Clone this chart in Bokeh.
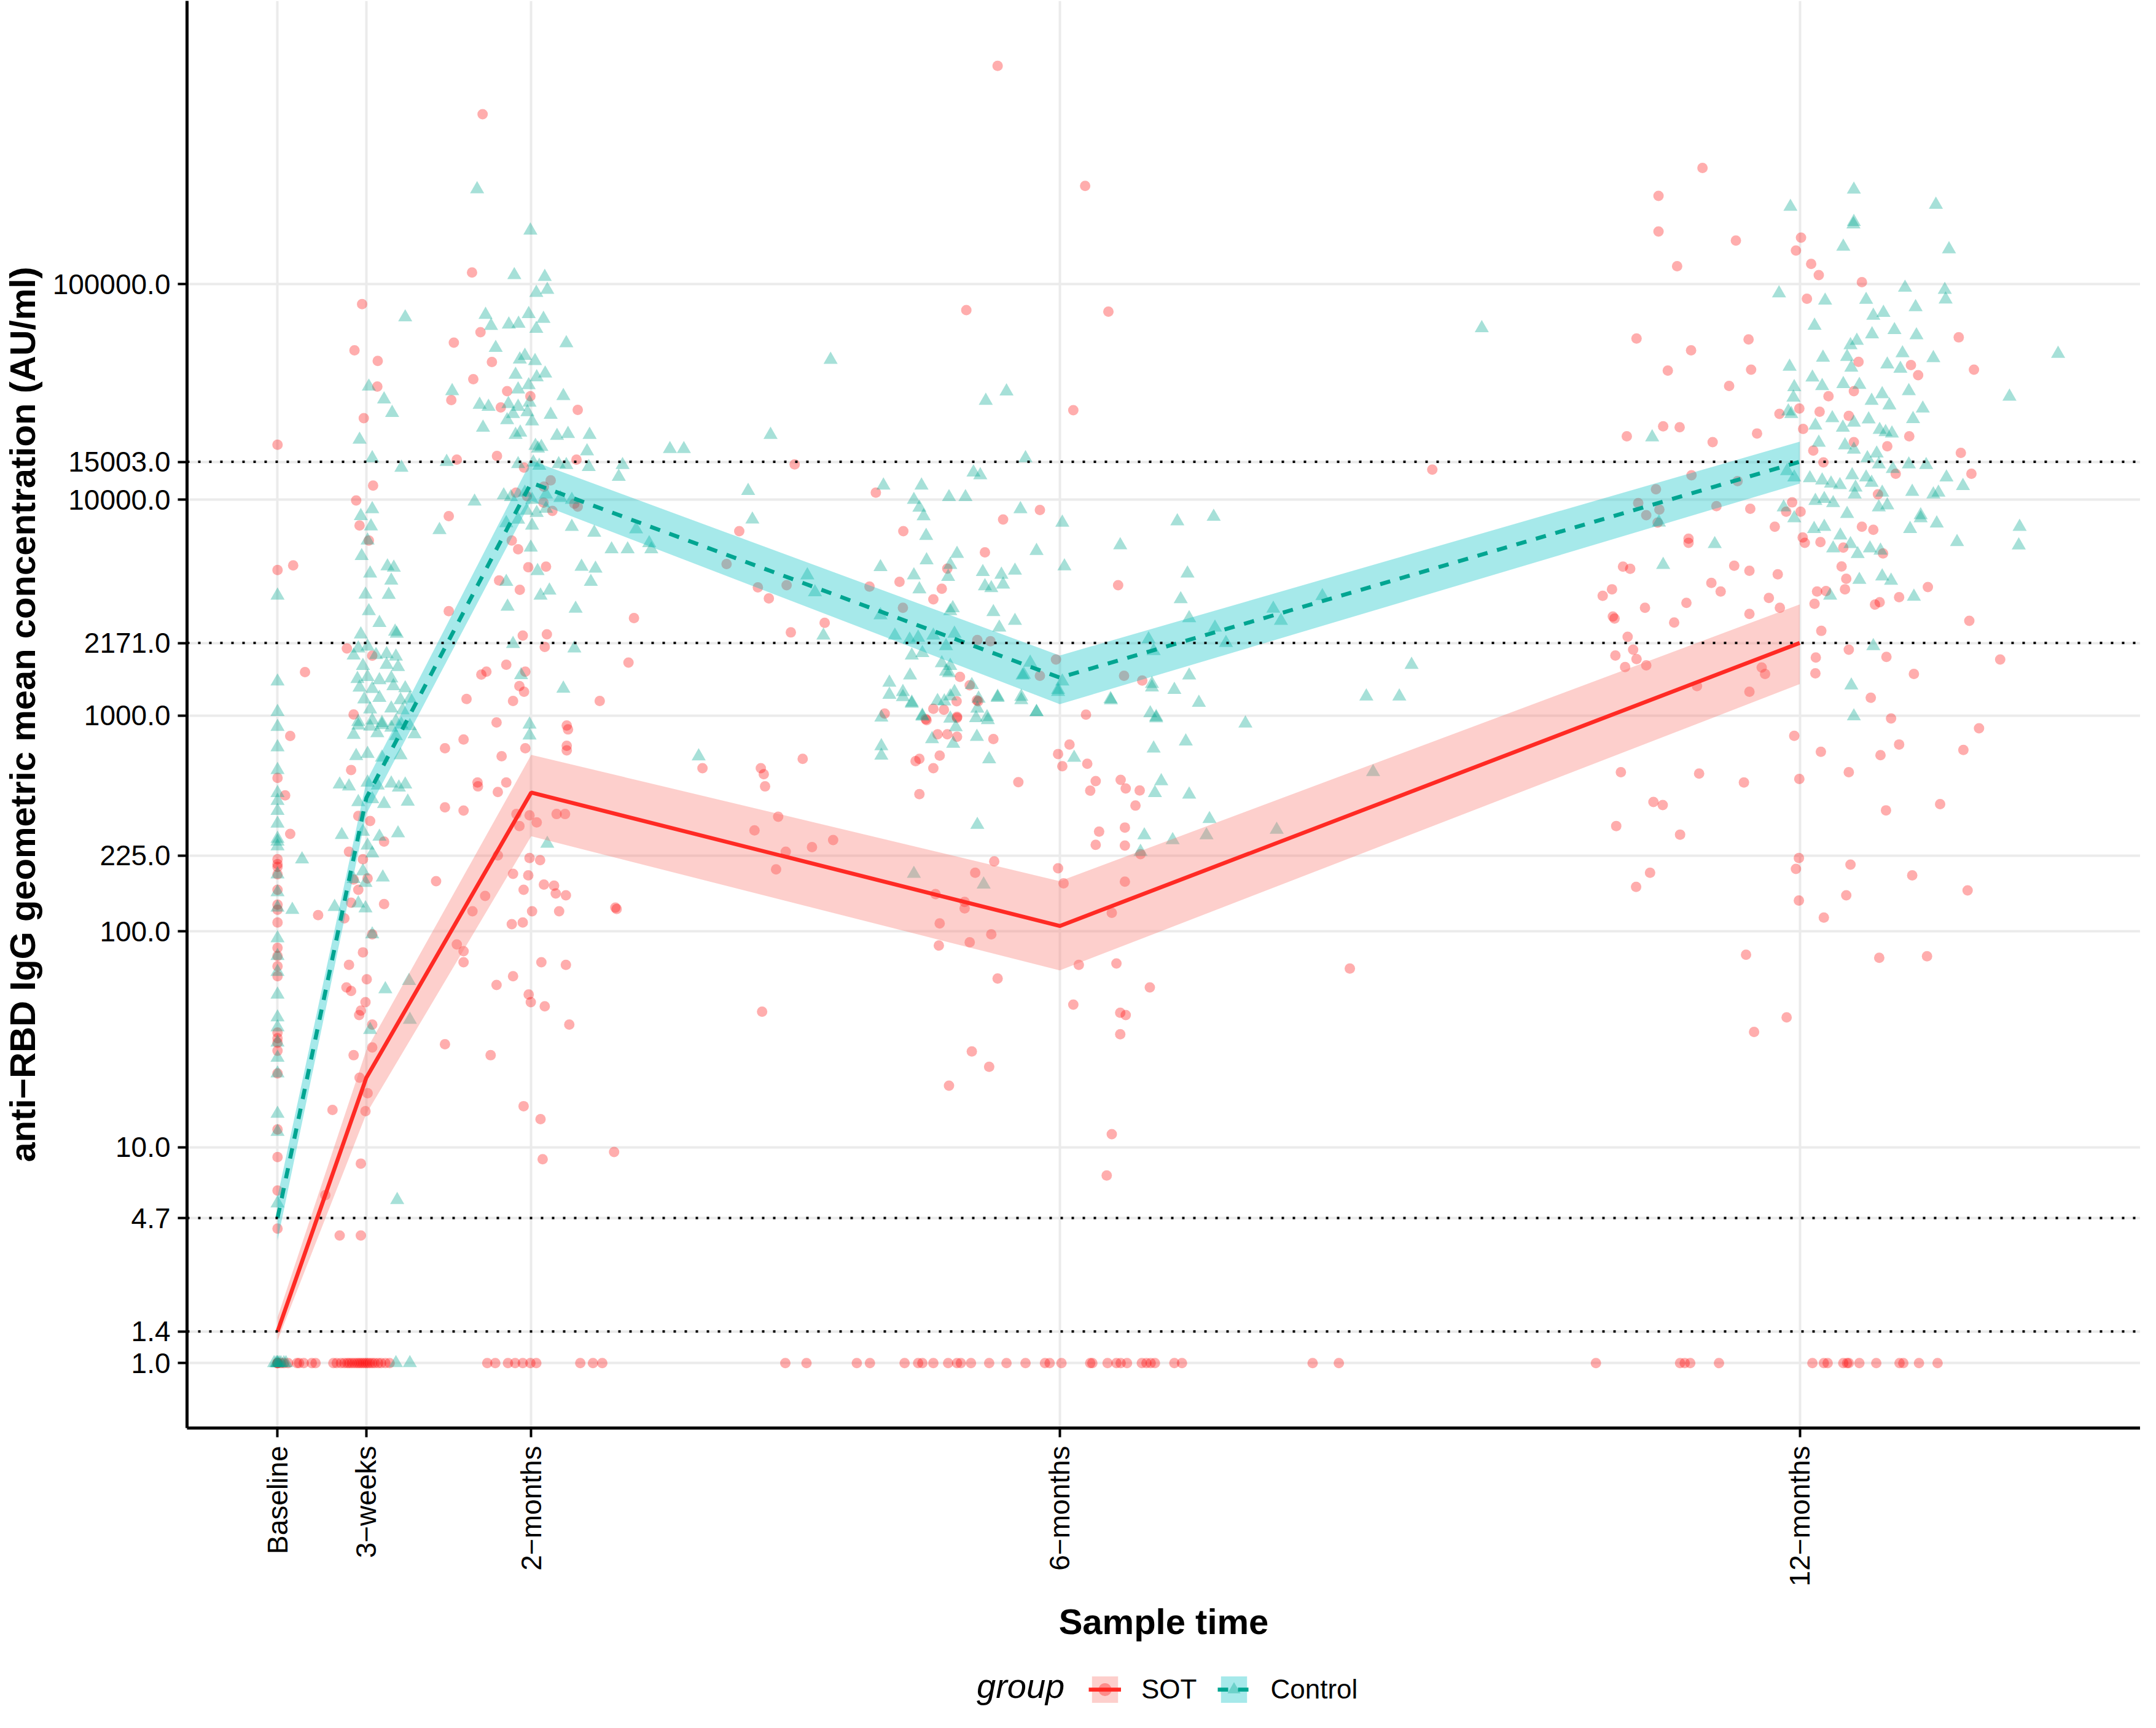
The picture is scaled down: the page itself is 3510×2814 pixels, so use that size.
import math
from bokeh.plotting import figure
from bokeh.layouts import column
from bokeh.models import (FixedTicker, NumeralTickFormatter, Span, Legend, LegendItem,
                          ColumnDataSource)
from bokeh.embed import file_html
from bokeh.resources import INLINE

# ---------------- data ----------------
visit_days = [0, 21, 60, 185, 360]
visit_labels = ["Baseline", "3\u2212weeks", "2\u2212months", "6\u2212months", "12\u2212months"]

y_ticks = [1, 1.4, 4.7, 10, 100, 225, 1000, 2171, 10000, 15003, 100000]
ref_lines = [1.4, 4.7, 2171, 15003]

# geometric means and 95% CI (AU/ml) at each visit
sot_gmc = [1.4, 21, 440, 106, 2171]
sot_lo = [1.27, 14.3, 276, 66, 1400]
sot_hi = [1.63, 28.2, 658, 171, 3275]
ctl_gmc = [4.7, 415, 12000, 1500, 15003]
ctl_lo = [3.7, 350, 9900, 1130, 11900]
ctl_hi = [5.9, 495, 15200, 1900, 18600]

# individual samples: (days since baseline, AU/ml)
sot_baseline = [(3.0, 805), (0, 515), (1.8, 427), (3.0, 283), (0, 216), (0, 205), (0, 199), (0, 184),
                (0, 156), (0, 133), (0, 126), (0, 110), (0, 84), (0, 77), (0, 69), (0, 62), (0, 34),
                (0, 32), (0, 30.5), (0, 28), (0, 22), (0, 12.1), (0, 9.0), (0, 6.3), (0, 4.2),
                (0, 18000), (0, 4730), (3.7, 4970), (6.5, 1590), (9.6, 119),
                (0, 1), (0, 1), (0, 1), (0.8, 1), (1.5, 1), (2.5, 1), (4.6, 1), (5.1, 1), (6.2, 1),
                (8.1, 1), (9.0, 1)]
sot_3weeks = [(20.0, 80700), (18.2, 49300), (23.7, 44000), (23.6, 33500), (20.4, 23900), (22.6, 11640),
              (18.6, 9930), (19.4, 7600), (21.6, 6480), (16.4, 2047), (22.4, 1896), (18.0, 1013),
              (17.4, 560), (19.1, 343), (21.9, 325), (25.2, 261), (16.9, 234), (20.2, 216), (18.0, 174),
              (21.3, 176), (19.1, 156), (17.4, 136), (25.2, 134), (15.8, 115), (22.4, 97), (20.2, 80),
              (16.9, 70), (21.1, 60), (16.3, 55), (17.4, 53), (20.8, 47), (19.7, 43), (19.3, 41),
              (22.4, 37), (22.4, 29), (18.0, 26.7), (19.4, 21), (21.3, 17.8), (20.8, 14.7), (13.0, 14.9),
              (19.7, 8.4), (14.7, 3.9), (19.7, 3.9), (11.3, 6.0),
              (13.2, 1), (14.0, 1), (15.0, 1), (15.8, 1), (16.5, 1), (17.0, 1), (17.6, 1), (18.2, 1),
              (18.8, 1), (19.3, 1), (19.8, 1), (20.3, 1), (20.8, 1), (21.3, 1), (21.8, 1), (22.4, 1),
              (23.0, 1), (23.8, 1), (24.5, 1), (25.5, 1), (26.5, 1)]
sot_2months = [(48.5, 612000), (46.0, 113000), (48.0, 59800), (41.7, 53500), (50.7, 43500), (46.3, 36200),
               (54.3, 31900), (59.8, 30200), (41.1, 29000), (52.8, 26800), (71.0, 26100), (51.9, 15960),
               (42.4, 15350), (70.7, 15350), (58.3, 14100), (64.6, 12300), (63.0, 11500), (56.4, 10800),
               (59.0, 10400), (62.9, 9700), (65.0, 8890), (70.2, 9600), (71.0, 9300), (40.5, 8400),
               (55.4, 6480), (56.9, 5900), (59.3, 4870), (63.5, 4900), (52.4, 4230), (57.3, 3830),
               (40.5, 3050), (84.3, 2830), (58.0, 2350), (63.7, 2380), (63.2, 2080), (83.0, 1760),
               (54.1, 1720), (48.2, 1550), (49.4, 1600), (58.6, 1600), (57.2, 1370), (58.3, 1290),
               (44.7, 1194), (55.7, 1170), (76.2, 1170), (51.8, 930), (68.4, 900), (68.7, 863),
               (68.4, 725), (68.4, 690), (39.6, 706), (44.0, 775), (53.0, 648), (58.6, 706), (47.3, 490),
               (47.4, 470), (54.1, 490), (52.1, 443), (39.6, 376), (44.0, 363), (56.5, 350), (59.6, 345),
               (61.3, 320), (66.0, 350), (68.0, 350), (57.2, 308), (59.6, 219), (62.1, 214), (52.1, 225),
               (37.5, 171), (55.7, 185), (59.3, 182), (58.2, 156), (63.0, 165), (65.4, 163), (65.8, 150),
               (68.2, 147), (49.1, 146), (60.2, 124), (66.6, 124), (46.1, 124), (80.2, 127), (79.9, 129),
               (58.0, 110), (55.4, 108), (42.4, 87), (44.0, 81), (44.0, 72), (62.4, 72), (68.2, 70),
               (55.7, 62), (51.8, 56.5), (59.4, 51), (59.9, 47), (63.2, 45), (69.0, 37), (39.6, 30),
               (50.4, 26.7), (58.2, 15.5), (62.2, 13.5), (79.6, 9.5), (62.7, 8.8),
               (49.6, 1), (51.5, 1), (54.5, 1), (56.2, 1), (58.0, 1), (59.8, 1), (61.2, 1), (71.6, 1),
               (74.6, 1), (76.8, 1)]
sot_6months = [(100.5, 571), (114.3, 571), (115.0, 535), (115.3, 470), (124.2, 631), (118.4, 340),
               (112.8, 294), (126.4, 246), (131.4, 265), (120.2, 234), (117.9, 194), (114.6, 42.5),
               (106.2, 5040), (120.4, 4020), (140.0, 3960), (147.9, 3160), (109.2, 7160), (122.3, 14600),
               (141.5, 10800), (113.6, 3930), (116.2, 3490), (129.4, 2690), (121.4, 2430), (273.1, 13800),
               (253.6, 67.3),
               (170.3, 1025000), (191.0, 285000), (162.9, 75700), (196.5, 74500), (188.2, 26000),
               (180.3, 8970), (171.6, 8110), (148.0, 7160), (167.3, 5710), (198.8, 4020), (147.1, 4170),
               (155.1, 3460), (157.1, 3870), (158.4, 4800), (161.4, 1512), (163.7, 1382), (165.4, 1177),
               (160.6, 1166), (157.6, 1065), (155.1, 1076), (143.6, 1023), (160.7, 988), (153.3, 964),
               (165.5, 2240), (168.6, 2210), (180.3, 1530), (184.1, 1820), (200.2, 1530), (204.5, 1453),
               (153.5, 953), (165.7, 1165), (156.1, 819), (158.4, 819), (160.7, 798), (169.3, 779),
               (156.6, 653), (151.8, 631), (150.9, 615), (155.1, 571), (151.8, 433), (175.2, 492),
               (187.3, 734), (184.6, 664), (185.6, 583), (191.5, 598), (191.2, 1011), (193.5, 497),
               (192.2, 449), (199.4, 504), (200.6, 460), (203.9, 450), (202.9, 383), (194.3, 290),
               (193.5, 252), (200.4, 303), (200.4, 250), (204.1, 228), (184.6, 196), (185.9, 167),
               (200.4, 170), (197.3, 122), (169.5, 211), (165.0, 187), (155.6, 149), (162.5, 137),
               (162.5, 128), (156.6, 109), (168.8, 97), (156.4, 86), (163.7, 89), (170.3, 60.5),
               (189.5, 70), (198.4, 71), (206.3, 55), (188.2, 45.8), (199.3, 42), (200.6, 41),
               (199.3, 33.4), (164.2, 27.8), (168.3, 23.6), (158.8, 19.3), (197.3, 11.5), (196.1, 7.4),
               (160.7, 977),
               (120.1, 1), (125.1, 1), (137.0, 1), (140.1, 1), (148.3, 1), (151.5, 1), (152.5, 1),
               (155.1, 1), (158.6, 1), (160.7, 1), (161.6, 1), (164.0, 1), (168.3, 1), (172.4, 1),
               (176.9, 1), (181.5, 1), (182.6, 1), (185.4, 1), (192.2, 1), (192.7, 1), (196.3, 1),
               (198.4, 1), (199.4, 1), (200.9, 1), (204.4, 1), (205.5, 1), (206.5, 1), (207.5, 1),
               (212.1, 1), (213.9, 1), (244.8, 1), (251.0, 1)]
sot_12months = [(337.0, 345000), (326.6, 256000), (326.6, 175000), (344.9, 159000), (331.0, 121000),
                (360.3, 164000), (359.1, 143000), (362.7, 124000), (364.5, 110000), (374.7, 102000),
                (361.7, 85500), (321.4, 55900), (334.3, 49300), (347.9, 55400), (348.5, 40100),
                (328.8, 39700), (343.3, 33700), (397.6, 56600), (401.2, 40100), (386.3, 42100),
                (388.0, 37800), (373.9, 43600), (372.8, 31900), (366.8, 30200), (364.7, 25600),
                (359.9, 26500), (355.2, 25000), (327.7, 21900), (331.6, 21700), (319.1, 19700),
                (339.4, 18500), (349.9, 20300), (371.6, 24500), (372.8, 18500), (360.8, 21300),
                (363.2, 16900), (365.6, 14900), (380.7, 17700), (385.9, 19700), (398.1, 16500),
                (400.6, 13200), (382.7, 13200), (378.5, 10600), (358.2, 9730), (356.8, 8810),
                (360.2, 8810), (348.3, 9090), (340.3, 9350), (354.1, 7500), (360.7, 6690), (361.2, 6320),
                (364.9, 6370), (374.7, 7500), (377.4, 7260), (370.3, 6010), (379.7, 5640), (333.7, 6600),
                (333.7, 6320), (318.2, 4900), (319.9, 4790), (344.5, 4950), (348.1, 4690), (354.8, 4520),
                (339.1, 4120), (341.3, 3760), (315.6, 3850), (313.4, 3590), (323.4, 3160), (333.2, 3330),
                (352.7, 3510), (355.3, 3160), (348.1, 2960), (330.3, 2700), (315.8, 2880), (316.2, 2820),
                (364.1, 3760), (366.2, 3780), (363.5, 3300), (370.7, 3850), (369.9, 4910), (371.0, 4310),
                (377.8, 3270), (378.9, 3350), (383.5, 3540), (390.3, 3940), (400.1, 2750), (365.1, 2470),
                (319.3, 2320), (320.6, 2020), (316.4, 1900), (321.4, 1830), (318.7, 1680), (323.7, 1710),
                (351.0, 1670), (351.8, 1560), (348.1, 1290), (335.7, 1370), (363.8, 1860), (363.7, 1570),
                (371.6, 2020), (380.5, 1870), (387.0, 1560), (407.4, 1820), (376.8, 1210), (381.6, 970),
                (402.4, 873), (358.7, 806), (365.0, 680), (379.1, 656), (383.5, 735), (398.7, 693),
                (371.6, 547), (359.9, 509), (317.7, 547), (336.2, 539), (346.8, 490), (325.4, 398),
                (327.6, 385), (316.6, 308), (331.7, 281), (393.2, 389), (380.4, 364), (359.8, 219),
                (359.1, 195), (372.0, 204), (386.6, 182), (399.7, 155), (324.6, 187), (321.3, 161),
                (371.0, 147), (359.8, 139), (365.7, 116), (347.3, 78), (378.8, 75.5), (390.1, 76.7),
                (356.9, 40), (349.2, 34.2),
                (334.4, 13000), (326.0, 11200), (321.8, 9660), (323.7, 8490), (326.8, 9020), (326.4, 7850),
                (345.3, 12200),
                (311.8, 1), (331.7, 1), (332.8, 1), (334.1, 1), (340.9, 1), (363.0, 1), (365.7, 1),
                (366.6, 1), (370.3, 1), (371.2, 1), (371.6, 1), (374.1, 1), (378.1, 1), (383.6, 1),
                (384.5, 1), (388.2, 1), (392.6, 1)]

ctl_baseline = [(0, 3600), (0, 1440), (0, 1040), (0, 888), (0, 714), (0, 560), (0, 438), (0, 403), (0, 362),
                (0, 316), (0, 269), (0, 261), (0, 248), (0, 184), (0, 152), (0, 129), (0, 93), (0, 77),
                (0, 65), (0, 51), (0, 40), (0, 36), (0, 30.6), (0, 26), (0, 22), (0, 14.3), (0, 11.8),
                (0, 5.5), (5.8, 216), (3.5, 126),
                (-0.8, 1), (-0.3, 1), (0, 1), (0, 1), (0.4, 1), (0.8, 1), (1.5, 1), (2.0, 1)]
ctl_3weeks = [(30.2, 70100), (21.6, 33500), (25.2, 29200), (27.1, 25300), (19.4, 19000), (22.4, 15600),
              (29.3, 14100), (19.7, 8410), (22.4, 9060), (22.1, 7540), (21.3, 6480), (19.9, 5490),
              (21.9, 4560), (26.0, 4920), (27.5, 4850), (26.9, 4230), (20.8, 3640), (26.3, 3630),
              (21.6, 3050), (24.1, 2690), (27.8, 2450), (28.2, 2400), (19.7, 2380), (19.1, 2050),
              (21.3, 2090), (18.0, 1900), (25.8, 1930), (28.0, 1880), (23.3, 1910), (20.2, 1700),
              (25.8, 1720), (28.5, 1680), (18.9, 1480), (21.3, 1510), (24.1, 1460), (26.9, 1490),
              (19.4, 1350), (22.4, 1330), (27.4, 1370), (30.2, 1340), (20.5, 1190), (24.1, 1210),
              (29.1, 1180), (31.3, 1200), (21.9, 1070), (26.9, 1080), (29.6, 1060), (19.1, 935),
              (22.4, 950), (24.7, 925), (28.0, 940), (19.1, 900), (21.9, 890), (24.7, 905), (26.9, 880),
              (29.3, 910), (31.3, 895), (18.0, 815), (23.6, 830), (28.0, 805), (32.4, 820), (18.6, 650),
              (21.3, 665), (24.7, 640), (29.1, 655), (14.7, 480), (16.9, 470), (21.3, 490), (23.7, 475),
              (26.9, 485), (28.7, 465), (30.2, 480), (19.1, 398), (22.4, 410), (25.2, 390), (30.8, 400),
              (15.2, 280), (20.2, 290), (24.1, 275), (28.5, 285), (21.3, 250), (22.4, 230), (20.2, 190),
              (18.0, 175), (20.8, 168), (24.9, 178), (19.1, 135), (20.8, 128), (13.5, 130), (22.4, 97),
              (25.5, 54), (31.1, 59), (21.9, 35), (31.3, 39), (28.3, 5.7),
              (28.0, 1), (31.3, 1)]
ctl_2months = [(47.2, 275000), (59.8, 177000), (56.0, 110000), (63.2, 108000), (61.2, 91000), (63.8, 94000),
               (49.2, 72000), (50.5, 64000), (59.4, 72600), (62.9, 69000), (54.7, 65000), (57.0, 65500),
               (61.2, 62000), (68.3, 53200), (51.6, 50600), (57.3, 44700), (60.9, 44000), (58.5, 46500),
               (56.3, 38000), (61.3, 37000), (63.3, 38500), (59.4, 34000), (56.9, 32500), (41.3, 31900),
               (67.6, 30300), (54.6, 27800), (56.9, 27000), (59.6, 28200), (47.8, 27600), (49.9, 27000),
               (55.7, 25000), (59.1, 25500), (64.6, 24800), (54.3, 23400), (60.2, 23100), (48.6, 21600),
               (56.3, 20000), (57.4, 20500), (66.1, 19800), (68.7, 20200), (73.8, 20000), (61.0, 17800),
               (61.6, 17300), (62.4, 17600), (73.2, 16800), (92.8, 17200), (96.1, 17200), (68.3, 14500),
               (73.6, 14200), (81.6, 14500), (40.0, 15000), (56.9, 14650), (60.5, 14900), (61.9, 14400),
               (66.5, 14650), (80.7, 12800), (53.5, 10500), (55.2, 10300), (58.5, 10800), (60.2, 10000),
               (63.5, 10600), (46.6, 9820), (66.9, 10200), (69.6, 10000), (58.9, 8900), (61.3, 8700),
               (63.5, 9100), (38.3, 7250), (54.1, 7800), (56.9, 8100), (60.2, 7600), (69.6, 7500),
               (74.9, 7050), (75.2, 4800), (71.9, 4900), (61.5, 4680), (74.1, 4170), (59.9, 6010),
               (64.3, 3800), (62.2, 3600), (54.1, 4170), (54.4, 3200), (70.5, 3130), (55.7, 2150),
               (70.2, 2050), (57.6, 1540), (67.6, 1335), (59.6, 810), (59.6, 910), (63.8, 255),
               (99.6, 648), (116.6, 20000), (130.8, 44600), (111.3, 11000), (112.3, 8110), (84.8, 7300),
               (87.9, 6300), (88.4, 5900), (82.8, 5900), (79.0, 5900), (125.3, 4470), (127.1, 3730),
               (129.1, 2350)]
ctl_6months = [(143.3, 11650), (152.3, 11650), (150.5, 10000), (151.8, 9200), (152.8, 8400), (158.8, 10300),
               (162.7, 10300), (164.6, 13400), (166.2, 13000), (167.5, 28800), (172.4, 31800),
               (176.9, 15600), (175.7, 9060), (185.6, 7840), (186.1, 4920), (199.3, 6160), (212.8, 7960),
               (221.4, 8350), (179.5, 5800), (153.4, 6810), (142.6, 4880), (153.5, 5250), (160.7, 5620),
               (158.6, 4400), (159.1, 5000), (150.5, 4470), (151.8, 3850), (166.8, 4630), (171.2, 4500),
               (174.4, 4700), (167.3, 3980), (168.8, 3900), (171.6, 4050), (159.7, 3150), (159.1, 3050),
               (169.3, 3020), (174.4, 2750), (142.6, 2920), (146.0, 2350), (149.5, 2250), (151.5, 2300),
               (155.1, 2350), (158.1, 2100), (160.1, 2400), (170.7, 2560), (150.0, 1900), (152.5, 1950),
               (157.1, 1750), (159.1, 1700), (158.1, 1600), (176.5, 1550), (178.0, 1760), (184.6, 1290),
               (185.6, 1440), (144.7, 1250), (147.9, 1220), (150.0, 1150), (156.1, 1170), (159.1, 1230),
               (165.8, 1200), (170.3, 1210), (175.9, 1180), (179.5, 1040), (142.8, 980), (152.5, 990),
               (159.1, 970), (165.2, 975), (167.8, 985),
               (144.7, 1422), (147.9, 1288), (149.6, 1535), (150.0, 1136), (152.5, 1000), (154.8, 779),
               (158.8, 1574), (157.7, 1165), (160.1, 1288), (160.4, 884), (159.8, 741), (164.2, 1387),
               (165.5, 1079), (168.0, 953), (165.4, 798), (168.3, 628), (170.3, 1224), (175.9, 1224),
               (176.2, 1535), (179.5, 1038), (184.6, 1318), (188.4, 638), (197.0, 1194), (206.8, 1352),
               (212.1, 1318), (215.6, 1535), (217.9, 1148), (206.4, 1026), (207.8, 986), (207.2, 705),
               (214.8, 760), (228.9, 920), (209.0, 497), (207.5, 438), (215.6, 431), (220.4, 332),
               (205.0, 279), (211.7, 265), (219.7, 279), (236.3, 296), (204.1, 234), (165.5, 312),
               (150.5, 185), (167.0, 165), (142.8, 722), (142.8, 653),
               (197.1, 1178), (206.8, 1403), (207.8, 973), (215.2, 4560), (213.6, 3465), (206.0, 2260),
               (207.2, 1993), (215.6, 2830), (221.7, 2560), (224.3, 2173), (235.5, 3130),
               (284.8, 62500), (247.1, 3580), (268.2, 1720), (257.5, 1228), (265.3, 1228), (259.1, 548),
               (237.3, 2750)]
ctl_12months = [(357.8, 228000), (372.8, 274000), (372.8, 194000), (372.7, 189000), (370.3, 149000),
                (392.2, 233000), (395.3, 145000), (355.1, 90600), (366.0, 83800), (363.5, 64100),
                (375.7, 84500), (377.4, 71300), (379.8, 73600), (384.9, 96200), (394.3, 94000),
                (394.5, 84900), (387.4, 78200), (382.4, 61200), (377.1, 58500), (387.6, 57900),
                (391.6, 45400), (384.3, 47800), (372.0, 52100), (373.5, 54600), (365.5, 45600),
                (371.2, 46000), (372.2, 41000), (380.7, 42400), (383.8, 40500), (357.6, 41400),
                (358.7, 33300), (363.0, 36900), (365.3, 33700), (370.3, 34400), (374.1, 34100),
                (377.0, 28800), (379.5, 30900), (381.2, 27400), (385.8, 31900), (389.1, 26500),
                (421.1, 47500), (409.6, 30100), (357.3, 25700), (358.5, 29800), (358.0, 25000),
                (363.7, 22100), (367.7, 23900), (370.2, 21600), (372.8, 22800), (376.3, 23600),
                (378.9, 21100), (380.3, 20600), (381.8, 20300), (386.8, 23700), (325.1, 19500),
                (364.5, 18400), (370.7, 17900), (372.8, 17100), (376.0, 15600), (378.2, 16400),
                (378.7, 14600), (382.0, 13900), (385.8, 14600), (389.9, 14500), (394.7, 12700),
                (398.6, 11600), (357.0, 13600), (358.7, 12700), (362.4, 12600), (365.3, 12300),
                (367.4, 11900), (369.5, 11700), (372.4, 13000), (373.2, 11400), (375.7, 12700),
                (377.0, 12000), (379.5, 10800), (386.6, 10900), (391.6, 10600), (392.8, 10800),
                (356.2, 9230), (358.7, 8220), (363.7, 9890), (365.8, 10100), (367.9, 9660), (371.2, 8610),
                (373.0, 10600), (378.7, 9230), (380.7, 9440), (388.6, 8490), (388.6, 8220), (386.1, 7330),
                (392.4, 7780), (363.4, 7330), (365.8, 7500), (369.6, 6840), (372.0, 6240), (376.6, 5960),
                (379.1, 5820), (397.2, 6380), (412.0, 7500), (411.8, 6150), (367.9, 5960), (373.7, 5610),
                (374.1, 4260), (379.5, 4420), (381.6, 4220), (387.0, 3560), (367.2, 3600), (339.9, 6240),
                (327.7, 5000), (326.7, 7850), (372.2, 1380), (377.4, 2100), (372.8, 993)]

# ---------------- styles ----------------
FONT = "Liberation Sans"
SOT_PT = "#FF0000"
CTL_PT = "#00A58F"
SOT_BAND = "#F8766D"
CTL_BAND = "#00BFC4"
SOT_LINE = "#FF2A24"
CTL_LINE = "#00A591"
W = 3484          # page width used by both rows
LEFT = 302        # left border (y axis area)
QH = 100          # height of the legend row

# ---------------- main plot ----------------
p = figure(width=W, height=2692, x_range=(-21.4, 440.55), y_range=(0.5, 2.05e6),
           y_axis_type="log", output_backend="svg", toolbar_location=None,
           min_border_left=LEFT, min_border_right=0, min_border_top=1, min_border_bottom=367)
p.outline_line_color = None
p.background_fill_color = "white"
p.border_fill_color = "white"

def pts(*groups):
    xs, ys = [], []
    for g in groups:
        for d, v in g:
            xs.append(d)
            ys.append(v)
    return ColumnDataSource(dict(day=xs, val=ys))

sot_src = pts(sot_baseline, sot_3weeks, sot_2months, sot_6months, sot_12months)
ctl_src = pts(ctl_baseline, ctl_3weeks, ctl_2months, ctl_6months, ctl_12months)

p.scatter("day", "val", source=sot_src, marker="circle", size=17,
          fill_color=SOT_PT, fill_alpha=0.32, line_color=None)
p.scatter("day", "val", source=ctl_src, marker="triangle", size=23,
          fill_color=CTL_PT, fill_alpha=0.35, line_color=None)

p.varea(x=visit_days, y1=sot_lo, y2=sot_hi, fill_color=SOT_BAND, fill_alpha=0.35)
p.varea(x=visit_days, y1=ctl_lo, y2=ctl_hi, fill_color=CTL_BAND, fill_alpha=0.35)

p.line(visit_days, sot_gmc, line_color=SOT_LINE, line_width=6.5)
p.line(visit_days, ctl_gmc, line_color=CTL_LINE, line_width=6.5, line_dash="17 16")

for v in ref_lines:
    p.add_layout(Span(location=v, dimension="width", line_color="black",
                      line_width=4, line_dash="4 14"))

p.xaxis.ticker = FixedTicker(ticks=visit_days, minor_ticks=[])
p.xaxis.major_label_overrides = {d: lab for d, lab in zip(visit_days, visit_labels)}
p.xaxis.major_label_orientation = math.pi / 2
p.yaxis.ticker = FixedTicker(ticks=y_ticks, minor_ticks=[])
p.yaxis.formatter = NumeralTickFormatter(format="0.0")
p.xgrid.ticker = FixedTicker(ticks=visit_days, minor_ticks=[])
p.ygrid.ticker = FixedTicker(ticks=y_ticks, minor_ticks=[])
for g in (p.xgrid, p.ygrid):
    g.grid_line_color = "#EBEBEB"
    g.grid_line_width = 4
    g.minor_grid_line_color = None

for ax in (p.xaxis, p.yaxis):
    ax.axis_line_color = "black"
    ax.axis_line_width = 5
    ax.major_tick_line_color = "black"
    ax.major_tick_line_width = 4
    ax.major_tick_out = 15
    ax.major_tick_in = 0
    ax.minor_tick_line_color = None
    ax.major_label_text_font = FONT
    ax.major_label_text_font_size = "46px"
    ax.major_label_text_color = "black"
    ax.axis_label_text_font = FONT
    ax.axis_label_text_font_size = "58px"
    ax.axis_label_text_font_style = "bold"
    ax.axis_label_text_color = "black"

p.xaxis.axis_label = "Sample time"
p.xaxis.major_label_standoff = 14
p.xaxis.axis_label_standoff = 22
p.yaxis.axis_label = "anti\u2212RBD IgG geometric mean concentration (AU/ml)"
p.yaxis.major_label_standoff = 12
p.yaxis.axis_label_standoff = 14

# ---------------- legend row ----------------
NAN = float("nan")
q = figure(width=W, height=QH, x_range=(LEFT, W), y_range=(0, QH),
           output_backend="svg", toolbar_location=None,
           min_border_left=LEFT, min_border_right=0, min_border_top=0, min_border_bottom=0,
           x_axis_location=None, y_axis_location=None)
q.outline_line_color = None
q.background_fill_color = "white"
q.border_fill_color = "white"
q.grid.visible = False

# key proxies (hold the styles only; nothing is drawn from them)
k_sot_band = q.varea(x=[NAN], y1=[NAN], y2=[NAN], fill_color=SOT_BAND, fill_alpha=0.35)
k_sot_pt = q.scatter(x=[NAN], y=[NAN], marker="circle", size=17, fill_color=SOT_PT,
                     fill_alpha=0.32, line_color=None)
k_sot_line = q.line(x=[NAN], y=[NAN], line_color=SOT_LINE, line_width=6.5)
k_ctl_band = q.varea(x=[NAN], y1=[NAN], y2=[NAN], fill_color=CTL_BAND, fill_alpha=0.35)
k_ctl_pt = q.scatter(x=[NAN], y=[NAN], marker="triangle", size=23, fill_color=CTL_PT,
                     fill_alpha=0.35, line_color=None)
k_ctl_line = q.line(x=[NAN], y=[NAN], line_color=CTL_LINE, line_width=6.5, line_dash="17 16")
k_blank = q.scatter(x=[NAN], y=[NAN], marker="circle", size=1, fill_alpha=0, line_alpha=0)

common = dict(orientation="horizontal", padding=0, margin=0, glyph_height=54,
              label_text_font=FONT, label_text_color="black",
              background_fill_alpha=0, border_line_alpha=0)

legend = Legend(items=[LegendItem(label="SOT", renderers=[k_sot_band, k_sot_pt, k_sot_line]),
                       LegendItem(label="Control", renderers=[k_ctl_band, k_ctl_pt, k_ctl_line])],
                location=(1770 - LEFT, 14), glyph_width=53,
                label_standoff=33, spacing=34, label_text_font_size="44px", **common)
title_leg = Legend(items=[LegendItem(label="group", renderers=[k_blank])],
                   location=(1588 - LEFT, 14), glyph_width=0, label_standoff=0,
                   label_text_font_size="56px", label_text_font_style="italic", **common)
q.add_layout(legend)
q.add_layout(title_leg)

layout = column(p, q, spacing=0)
open("out.html", "w").write(file_html(layout, INLINE))
